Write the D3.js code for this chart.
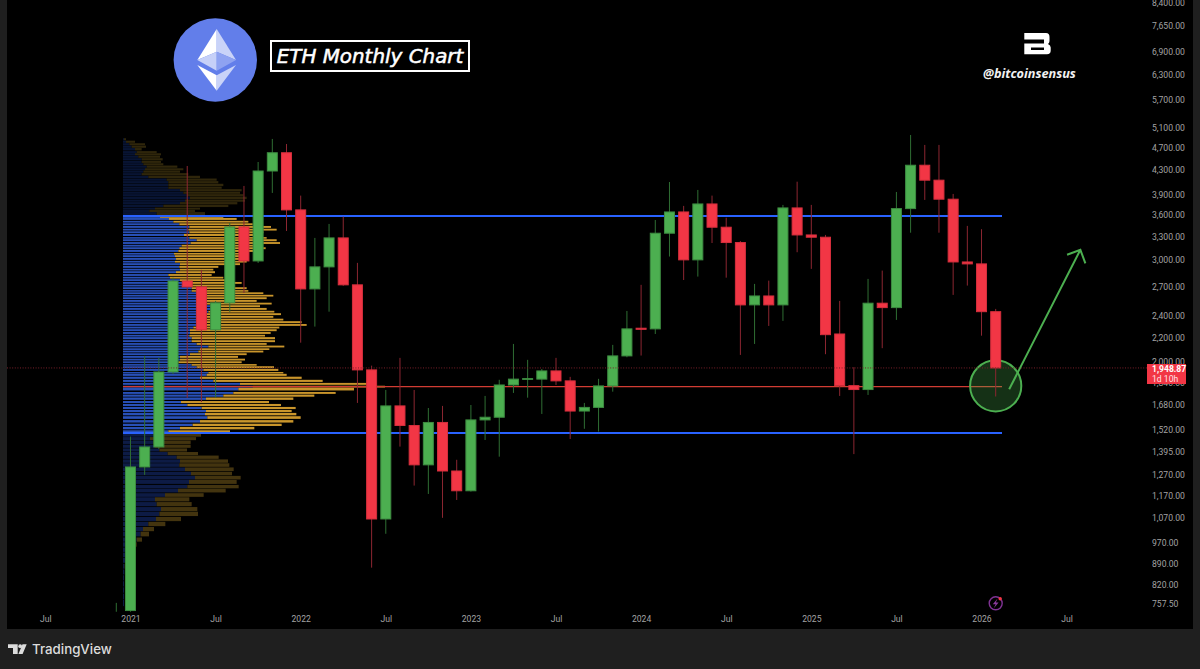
<!DOCTYPE html>
<html>
<head>
<meta charset="utf-8">
<title>ETH Monthly Chart</title>
<script src="https://cdn.jsdelivr.net/npm/d3@7"></script>
<style>
  html, body { margin: 0; padding: 0; background: #1f1f1f; }
  svg { display: block; }
  .tick text { font-family: Roboto, sans-serif; font-size: 8.6px; fill: #a3a3a3; }
</style>
</head>
<body>
<div id="chart"></div>
<script>
// monthly candles, Dec 2020 to Feb 2026
var months = ["2020-12",
  "2021-01","2021-02","2021-03","2021-04","2021-05","2021-06","2021-07","2021-08","2021-09","2021-10","2021-11","2021-12",
  "2022-01","2022-02","2022-03","2022-04","2022-05","2022-06","2022-07","2022-08","2022-09","2022-10","2022-11","2022-12",
  "2023-01","2023-02","2023-03","2023-04","2023-05","2023-06","2023-07","2023-08","2023-09","2023-10","2023-11","2023-12",
  "2024-01","2024-02","2024-03","2024-04","2024-05","2024-06","2024-07","2024-08","2024-09","2024-10","2024-11","2024-12",
  "2025-01","2025-02","2025-03","2025-04","2025-05","2025-06","2025-07","2025-08","2025-09","2025-10","2025-11","2025-12",
  "2026-01","2026-02"];
var opens = [616,
  737,1309,1418,1914,2754,2690,2265,2523,3419,2984,4276,4600,
  3660,2668,2914,3272,2712,1930,1063,1671,1545,1320,1564,1288,
  1190,1580,1597,1817,1858,1860,1922,1847,1637,1661,1810,2041,
  2280,2274,3334,3630,2997,3748,3415,3212,2503,2594,2503,3689,
  3311,3281,2228,1812,1784,2520,2476,3679,4376,4122,3820,2972,
  2949,2436];
var highs = [760,
  1478,2041,2025,2790,4363,2879,2543,3474,4028,4433,4861,4764,
  3875,3272,3460,3562,2961,1963,1781,2025,1781,1657,1671,1347,
  1677,1739,1855,2141,2009,1937,2025,1877,1691,1862,2133,2443,
  2712,3515,4092,3719,3964,3875,3547,3232,2722,2758,3734,4097,
  3734,3311,2543,1951,2777,2871,3932,4939,4746,4746,3901,3433,
  3388,2463];
var lows = [560,
  714,1268,1407,1900,1725,1697,1725,2434,2625,2960,3917,3364,
  2152,2295,2436,2701,1691,875,1002,1420,1215,1175,1068,1147,
  1186,1458,1364,1760,1727,1618,1817,1464,1525,1508,1769,2030,
  2044,2228,3037,2765,2803,3206,2791,2049,2141,2301,2348,3090,
  2891,2055,1739,1378,1746,2105,2357,3341,3809,3341,2605,2704,
  2213,1735];
var closes = [730,
  1309,1418,1914,2754,2690,2265,2523,3419,2984,4276,4600,3660,
  2668,2914,3272,2712,1930,1063,1671,1545,1320,1564,1288,1190,
  1580,1597,1817,1860,1864,1922,1847,1637,1661,1810,2041,2274,
  2270,3334,3630,2997,3748,3415,3212,2503,2594,2503,3689,3311,
  3281,2222,1812,1784,2520,2476,3679,4376,4122,3820,2972,2949,
  2436,1945];

// volume profile rows: price of the row, buy part, sell part
var vpPrice = [4855,4807,4759,4713,4665,4613,4572,4528,4481,4434,4393,4351,4306,4266,4221,4176,4131,4088,4044,4000,
  3960,3920,3881,3840,3798,3759,3719,3679,3645,3606,
  3554,3530,3491,3456,3419,3382,3347,3311,3272,3242,3206,3172,3140,3106,3071,3042,3009,2975,2946,2914,
  2882,2853,2821,2791,2763,2733,2704,2676,2647,2623,2597,2571,2543,2516,2490,2463,2436,2412,2386,2360,
  2336,2310,2286,2262,2237,2213,2191,2165,2141,2119,2097,2077,2055,2033,2011,1990,1969,1951,1930,1908,
  1892,1870,1847,1825,1805,1787,1760,1741,1720,1697,1677,1657,1637,1617,1595,1571,1549,1529,1508,
  1486,1466,1445,1422,1401,1381,1361,1340,1319,1297,1275,1254,1233,1210,1191,1170,1150,1128,1106,1085,
  1063,1042,1021,1001,979,960,940,921,901,880,860,840,820,800,780,760];
var vpBuy = [3,9,19,26,36,41,36,46,56,56,61,71,66,61,56,76,131,136,136,136,
  171,181,191,201,186,171,121,96,79,101,
  111,138,151,169,199,196,199,183,199,221,203,176,169,166,153,156,159,156,171,169,
  171,159,136,141,171,191,201,206,206,231,241,231,231,251,261,271,256,251,251,251,
  251,246,211,201,201,199,206,206,221,256,231,226,201,171,171,166,206,221,241,256,
  251,231,271,351,389,346,331,301,249,174,193,236,249,246,253,231,209,171,136,
  121,81,91,96,109,134,161,171,169,186,204,216,198,193,165,126,96,101,114,109,
  99,76,60,53,41,31,21,12,6,4,4,3,3,3,3,3];
var vpSell = [6,27,47,43,20,60,78,65,63,58,60,92,115,110,140,155,150,150,165,160,
  185,170,170,170,180,172,195,135,137,145,
  190,203,225,220,245,265,222,208,232,240,268,225,259,225,223,215,192,215,180,117,
  100,117,130,160,135,165,135,165,170,190,210,200,170,195,150,160,198,223,200,230,
  285,305,258,260,242,227,250,250,210,228,208,195,170,174,195,190,195,232,225,225,
  240,305,328,390,397,347,307,273,262,264,281,282,257,274,280,280,267,223,185,
  113,138,112,107,83,91,126,144,150,146,123,137,143,154,143,116,103,105,109,116,
  75,51,33,25,16,10,8,5,3,1,0,0,0,0,0,0];

var priceTicks = [8400,7650,6900,6300,5700,5100,4700,4300,3900,3600,3300,3000,2700,2400,2200,2000,1840,1680,1520,1395,1270,1170,1070,970,890,820,757.5];
var timeIndex = [-5,1,7,13,19,25,31,37,43,49,55,61,67];
var timeLabels = ["Jul","2021","Jul","2022","Jul","2023","Jul","2024","Jul","2025","Jul","2026","Jul"];

// levels drawn on the chart
var valueAreaHigh = 3575;
var valueAreaLow = 1497;
var pocPrice = 1805;
var lastPriceLabel = "1,948.87";
var countdownLabel = "1d 10h";

var width = 1200, height = 669;
var candleGreen = "#4caf50", candleRed = "#f23645";

var svg = d3.select("#chart").append("svg").attr("width", width).attr("height", height);

var x = d3.scaleLinear().domain([0, 62]).range([116.3, 995.7]);
var y = d3.scaleLog().domain([8400, 757.5]).range([2.2, 603.7]);
var vol = d3.scaleLinear().domain([0, 786]).range([123, 385]);

// pane
svg.append("rect").attr("x", 7).attr("y", 0).attr("width", 1186).attr("height", 629).attr("fill", "#000");
svg.append("defs").append("clipPath").attr("id", "pane")
  .append("rect").attr("x", 7).attr("y", 0).attr("width", 1186).attr("height", 611.8);

// volume profile, dimmer outside the value area and dimmest above it
var rows = svg.append("g").attr("clip-path", "url(#pane)");
vpPrice.forEach(function (price, i) {
  var next = i < vpPrice.length - 1 ? vpPrice[i + 1] : price * 0.97;
  var inValueArea = price <= valueAreaHigh && price >= valueAreaLow;
  var aboveValueArea = price > valueAreaHigh;
  var h = Math.max(1, (y(next) - y(price)) * (inValueArea ? 0.7 : 0.85));
  rows.append("rect")
    .attr("x", vol(0)).attr("y", y(price) - h / 2)
    .attr("width", vol(vpBuy[i]) - vol(0)).attr("height", h)
    .attr("fill", inValueArea ? "#2850b8" : (aboveValueArea ? "#081433" : "#0d1b45"));
  rows.append("rect")
    .attr("x", vol(vpBuy[i])).attr("y", y(price) - h / 2)
    .attr("width", vol(vpBuy[i] + vpSell[i]) - vol(vpBuy[i])).attr("height", h)
    .attr("fill", inValueArea ? "#c9952b" : (aboveValueArea ? "#2f260b" : "#43340f"));
});

// value area and point of control lines
[valueAreaHigh, valueAreaLow].forEach(function (level) {
  svg.append("line").attr("x1", vol(0)).attr("x2", 1002)
    .attr("y1", Math.round(y(level))).attr("y2", Math.round(y(level)))
    .attr("stroke", "#2962ff").attr("stroke-width", 2);
});
svg.append("line").attr("x1", vol(0)).attr("x2", 1002).attr("y1", y(pocPrice)).attr("y2", y(pocPrice))
  .attr("stroke", "#d13c33").attr("stroke-width", 1.4);

// green circle sits under the candles, over the lines
svg.append("circle").attr("cx", x(62)).attr("cy", y(1811)).attr("r", 25.6)
  .attr("fill", "#4caf50").attr("fill-opacity", 0.28)
  .attr("stroke", "#4caf50").attr("stroke-width", 2);

// candles
var candles = svg.append("g").attr("clip-path", "url(#pane)");
months.forEach(function (month, i) {
  var up = closes[i] >= opens[i];
  candles.append("line")
    .attr("x1", x(i)).attr("x2", x(i))
    .attr("y1", y(highs[i])).attr("y2", y(lows[i]))
    .attr("stroke", up ? "#2f6e33" : "#8c2631").attr("stroke-width", 1);
  var top = y(Math.max(opens[i], closes[i])), bottom = y(Math.min(opens[i], closes[i]));
  candles.append("rect")
    .attr("x", x(i) - 5).attr("width", 10)
    .attr("y", top).attr("height", Math.max(0.6, bottom - top))
    .attr("fill", up ? candleGreen : candleRed)
    .attr("stroke", up ? "#3d8c41" : "#d52f3d").attr("stroke-width", 1);
});

// last price dotted line
svg.append("line").attr("x1", 7).attr("x2", 1147)
  .attr("y1", y(closes[closes.length - 1])).attr("y2", y(closes[closes.length - 1]))
  .attr("stroke", "#7a1f2a").attr("stroke-width", 1).attr("stroke-dasharray", "1,1.6");

// arrow
var arrowStart = [x(62.95), y(1786)], arrowTip = [x(67.97), y(3120)];
svg.append("path")
  .attr("d", "M" + arrowStart + "L" + arrowTip + "M" + [arrowTip[0] - 13.3, arrowTip[1] + 5] + "L" + arrowTip + "L" + [arrowTip[0] + 5, arrowTip[1] + 13.6])
  .attr("fill", "none").attr("stroke", "#4caf50").attr("stroke-width", 2);

// axes
var yAxis = d3.axisRight(y).tickValues(priceTicks).tickFormat(d3.format(",.2f")).tickSize(0).tickPadding(0);
svg.append("g").attr("transform", "translate(1152,0.5)").call(yAxis).call(function (g) { g.select(".domain").remove(); });

var xAxis = d3.axisBottom(x).tickValues(timeIndex).tickFormat(function (d, i) { return timeLabels[i]; }).tickSize(0).tickPadding(0);
svg.append("g").attr("transform", "translate(0,616)").call(xAxis).call(function (g) { g.select(".domain").remove(); });

// last price label
svg.append("rect").attr("x", 1147).attr("y", 364).attr("width", 39).attr("height", 20).attr("fill", candleRed);
svg.append("text").attr("x", 1152).attr("y", 372).text(lastPriceLabel)
  .attr("font-family", "Roboto, sans-serif").attr("font-size", 8.6).attr("font-weight", 700).attr("fill", "#fff");
svg.append("text").attr("x", 1152).attr("y", 381.5).text(countdownLabel)
  .attr("font-family", "Roboto, sans-serif").attr("font-size", 8.6).attr("fill", "#ffe3e5");

// ethereum logo
var logo = svg.append("g");
logo.append("circle").attr("cx", 215.3).attr("cy", 60).attr("r", 41.7).attr("fill", "#627eea");
var logoFaces = [
  ["M216.7,29L197.3,60L216.7,51.7Z", "#ffffff"],
  ["M216.7,29L236,60L216.7,51.7Z", "#c9d3f8"],
  ["M197.3,60L216.7,51.7L216.7,70.7Z", "#c6d0f8"],
  ["M236,60L216.7,51.7L216.7,70.7Z", "#8ea2f1"],
  ["M197.3,65L216.7,75.3L216.7,90.7Z", "#ffffff"],
  ["M236,65L216.7,75.3L216.7,90.7Z", "#c9d3f8"]
];
logoFaces.forEach(function (face) { logo.append("path").attr("d", face[0]).attr("fill", face[1]); });

// title box
svg.append("rect").attr("x", 271).attr("y", 41).attr("width", 198).attr("height", 30)
  .attr("fill", "#000").attr("stroke", "#fff").attr("stroke-width", 2);
svg.append("text").attr("x", 370).attr("y", 62.5).attr("text-anchor", "middle").text("ETH Monthly Chart")
  .attr("font-family", "DejaVu Sans, sans-serif").attr("font-style", "italic")
  .attr("font-size", 19.9).attr("fill", "#fff").attr("stroke", "#fff").attr("stroke-width", 0.5);

// bitcoinsensus mark
svg.append("path").attr("fill", "#fff").attr("fill-rule", "evenodd")
  .attr("d", "M1024.3,33H1046Q1049.5,33 1049.5,37V41Q1049.5,43 1048,44Q1050.7,45 1050.7,47.5V50.5Q1050.7,54.3 1047,54.3H1024.3V43.5H1044V39.5H1024.3Z M1031,47.5V50H1044V47.5Z");
svg.append("text").attr("x", 1029.5).attr("y", 78).attr("text-anchor", "middle").text("@bitcoinsensus")
  .attr("font-family", "Open Sans, sans-serif").attr("font-style", "italic").attr("font-weight", 700)
  .attr("font-size", 12.7).attr("fill", "#f2f2f2");

// lightning badge
svg.append("circle").attr("cx", 995.7).attr("cy", 603.3).attr("r", 6.5)
  .attr("fill", "none").attr("stroke", "#7f3293").attr("stroke-width", 1.4);
svg.append("path").attr("d", "M997.6,598.4L992.8,604.2H995.6L993.8,608.2L998.6,602.4H995.8Z").attr("fill", "#8a3a9c");
svg.append("circle").attr("cx", 1000.2).attr("cy", 598.8).attr("r", 1.7).attr("fill", "#f23645");

// tradingview footer
svg.append("path").attr("fill", "#dcdcdc")
  .attr("d", "M8,644.3H17.7V654H13V648H8Z M26.7,644.3L22.6,654H18.4L22.5,644.3Z");
svg.append("circle").attr("cx", 20.2).attr("cy", 646.2).attr("r", 1.9).attr("fill", "#dcdcdc");
svg.append("text").attr("x", 32).attr("y", 654).text("TradingView")
  .attr("font-family", "Inter, sans-serif").attr("font-weight", 500).attr("font-size", 13.3).attr("fill", "#dcdcdc");
</script>
</body>
</html>
